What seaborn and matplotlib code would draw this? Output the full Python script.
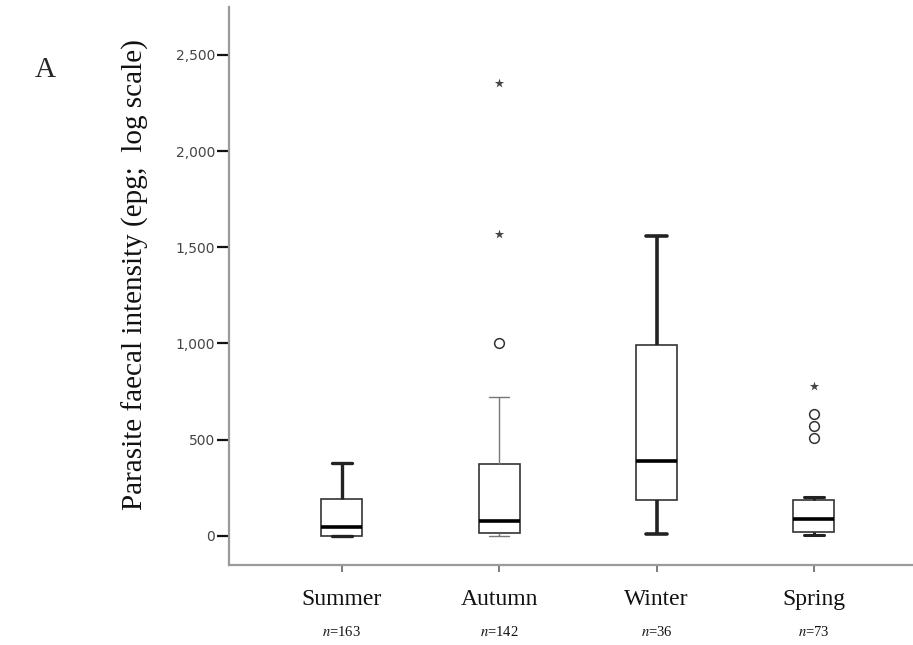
import numpy as np
import pandas as pd
import matplotlib
matplotlib.use("Agg")
import matplotlib.pyplot as plt
import seaborn as sns
from matplotlib.ticker import FuncFormatter

# --- Values ---
seasons = ["Summer", "Autumn", "Winter", "Spring"]
sample_sizes = [163, 142, 36, 73]

# lower whisker, Q1, median, Q3, upper whisker (epg)
summer_box = [0, 0, 45, 190, 380]
autumn_box = [0, 14, 76, 372, 720]
winter_box = [10, 186, 390, 990, 1560]
spring_box = [3, 18, 87, 185, 202]

# outliers (open circles) and extremes (stars)
outlier_season = ["Autumn", "Spring", "Spring", "Spring"]
outlier_value = [1000, 510, 570, 635]
extreme_season = ["Autumn", "Autumn", "Spring"]
extreme_value = [1570, 2355, 780]

y_ticks = [0, 500, 1000, 1500, 2000, 2500]

# --- Build tables ---
box_values = [summer_box, autumn_box, winter_box, spring_box]
box_df = pd.DataFrame({
    "season": np.repeat(seasons, 5),
    "epg": np.concatenate(box_values),
})
outlier_df = pd.DataFrame({"season": outlier_season, "epg": outlier_value})
extreme_df = pd.DataFrame({"season": extreme_season, "epg": extreme_value})

# --- Styling ---
sns.set_theme(style="ticks")
plt.rcParams["font.family"] = ["DejaVu Sans"]
plt.rcParams["mathtext.fontset"] = "stix"
serif = ["Liberation Serif", "DejaVu Serif"]
axis_grey = "#9a9a9a"
ink = "#222222"

fig = plt.figure(figsize=(9.13, 6.45), dpi=100)
ax = fig.add_axes([0.2508, 0.124, 0.7492, 0.865])

# whiskers look heavier on some boxes in the original
whisker_lw = {"Summer": 2.4, "Autumn": 1.0, "Winter": 2.6, "Spring": 2.2}
whisker_col = {"Summer": ink, "Autumn": "#777777", "Winter": ink, "Spring": ink}

for s in seasons:
    sns.boxplot(
        data=box_df[box_df["season"] == s], x="season", y="epg",
        order=seasons, whis=(0, 100), width=0.26, showfliers=False,
        color="white", linecolor=ink, linewidth=1.2, ax=ax,
        medianprops={"linewidth": 2.6, "color": "black"},
        whiskerprops={"linewidth": whisker_lw[s], "color": whisker_col[s]},
        capprops={"linewidth": whisker_lw[s], "color": whisker_col[s]},
        boxprops={"edgecolor": "#333333", "linewidth": 1.2},
    )

sns.stripplot(data=outlier_df, x="season", y="epg", order=seasons,
              jitter=False, marker="o", color="white", edgecolor="#333333",
              linewidth=1.1, size=7, ax=ax, zorder=5)
sns.stripplot(data=extreme_df, x="season", y="epg", order=seasons,
              jitter=False, marker="*", color="#444444", size=7, ax=ax, zorder=5)

# --- Axes ---
ax.set_xlim(-0.718, 3.63)
ax.set_ylim(-152, 2749)
ax.set_yticks(y_ticks)
ax.yaxis.set_major_formatter(FuncFormatter(lambda v, p: f"{int(v):,}"))
sns.despine(ax=ax)
for side in ["left", "bottom"]:
    ax.spines[side].set_color(axis_grey)
    ax.spines[side].set_linewidth(1.6)

ax.tick_params(axis="y", length=9, width=1.6, color="#111111",
               labelsize=10, labelcolor="#444444", pad=1)
ax.tick_params(axis="x", length=5, width=1.2, color="#666666",
               labelsize=17, labelcolor="#111111", pad=12)
for lab in ax.get_xticklabels():
    lab.set_family(serif)

ax.set_xlabel("")
ax.set_ylabel("Parasite faecal intensity (epg;  log scale)",
              fontsize=21, family=serif, color="#111111")
ax.yaxis.set_label_coords(-0.117, 0.52)

for i, n in enumerate(sample_sizes):
    ax.text(i, -0.12, rf"$\mathit{{n}}$={n}", transform=ax.get_xaxis_transform(),
            ha="center", va="center", fontsize=10.5, family=serif, color="#111111")

fig.text(0.05, 0.891, "A", fontsize=21, family=serif, ha="center", va="center")

fig.savefig("out.png", dpi=100, facecolor="white")
